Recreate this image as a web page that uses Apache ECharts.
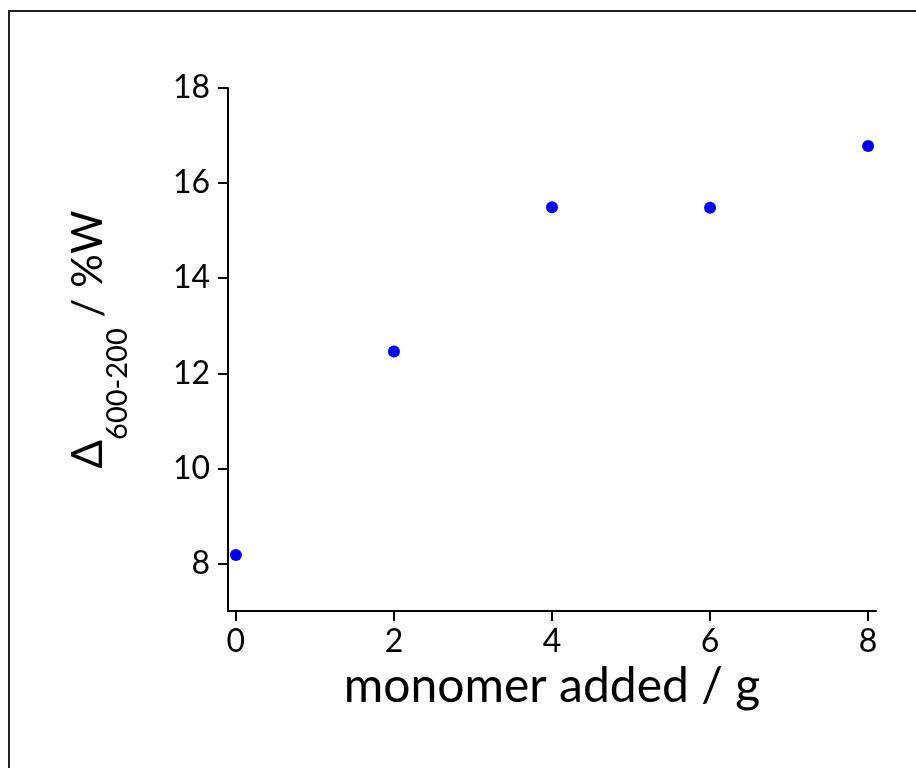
<!DOCTYPE html>
<html>
<head>
<meta charset="utf-8">
<script src="https://cdn.jsdelivr.net/npm/echarts@6/dist/echarts.min.js"></script>
<style>
html,body{margin:0;padding:0;background:#fff;}
#chart{width:916px;height:768px;}
</style>
</head>
<body>
<div id="chart"></div>
<script>
const monomerAdded = [0, 2, 4, 6, 8];
const deltaW = [8.18, 12.46, 15.49, 15.48, 16.78];
const xTicks = [0, 2, 4, 6, 8];
const yTicks = [8, 10, 12, 14, 16, 18];

const chart = echarts.init(document.getElementById('chart'));
const FONT = 'Lato';
chart.setOption({
  backgroundColor: '#ffffff',
  animation: false,
  graphic: [{
    type: 'rect',
    shape: { x: 9, y: 11, width: 1000, height: 1000 },
    style: { fill: 'none', stroke: '#222', lineWidth: 2 },
    silent: true
  }],
  grid: { left: 228, top: 88, right: 40, bottom: 157 },
  xAxis: {
    type: 'value',
    min: -0.1, max: 8.1,
    interval: 2,
    name: 'monomer added / g',
    nameLocation: 'middle',
    nameGap: 41,
    nameTextStyle: { fontFamily: FONT, fontSize: 48, color: '#000' },
    axisLine: { show: true, onZero: false, lineStyle: { color: '#000', width: 2 } },
    axisTick: { show: true, length: 10, lineStyle: { color: '#000', width: 2 }, customValues: xTicks },
    axisLabel: { fontFamily: FONT, fontSize: 32, color: '#000', margin: 15, customValues: xTicks,
      formatter: v => String(v) },
    splitLine: { show: false }
  },
  yAxis: {
    type: 'value',
    min: 7, max: 18,
    interval: 1,
    name: '{a|Δ}{b|600-200}{c| / %W}',
    nameLocation: 'middle',
    nameGap: 115,
    nameRotate: 90,
    nameTextStyle: {
      fontFamily: FONT, color: '#000',
      padding: [0, 0, 0, 20],
      rich: {
        a: { fontFamily: FONT, fontSize: 42, color: '#000', verticalAlign: 'top', lineHeight: 46 },
        b: { fontFamily: FONT, fontSize: 29, color: '#000', verticalAlign: 'top', lineHeight: 30, padding: [36, 0, 0, 0] },
        c: { fontFamily: FONT, fontSize: 42, color: '#000', verticalAlign: 'top', lineHeight: 46 }
      }
    },
    axisLine: { show: true, onZero: false, lineStyle: { color: '#000', width: 2 } },
    axisTick: { show: true, length: 10, lineStyle: { color: '#000', width: 2 }, customValues: yTicks },
    axisLabel: { fontFamily: FONT, fontSize: 32, color: '#000', margin: 18, customValues: yTicks,
      formatter: v => String(v) },
    splitLine: { show: false }
  },
  series: [{
    type: 'scatter',
    data: monomerAdded.map((x, i) => [x, deltaW[i]]),
    symbol: 'circle',
    symbolSize: 12,
    itemStyle: { color: '#0000ff', opacity: 1 }
  }]
});
</script>
</body>
</html>
